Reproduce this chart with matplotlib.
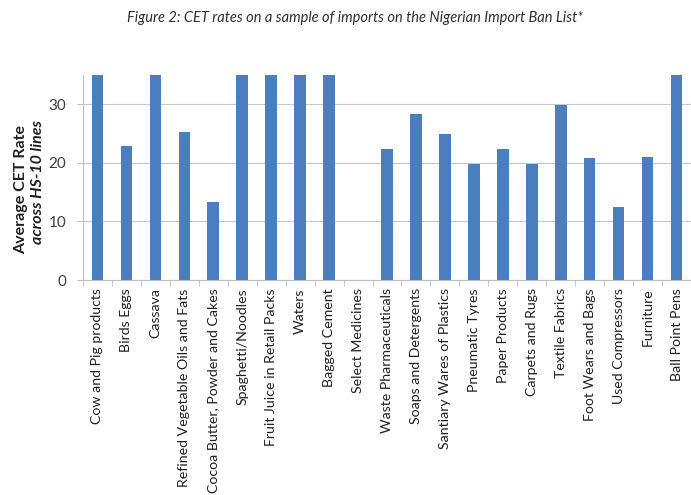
import matplotlib
matplotlib.use("Agg")
import matplotlib.pyplot as plt
import numpy as np

categories = [
    "Cow and Pig products", "Birds Eggs", "Cassava",
    "Refined Vegetable Oils and Fats", "Cocoa Butter, Powder and Cakes",
    "Spaghetti/Noodles", "Fruit Juice in Retail Packs", "Waters",
    "Bagged Cement", "Select Medicines", "Waste Pharmaceuticals",
    "Soaps and Detergents", "Santiary Wares of Plastics", "Pneumatic Tyres",
    "Paper Products", "Carpets and Rugs", "Textile Fabrics",
    "Foot Wears and Bags", "Used Compressors", "Furniture", "Ball Point Pens",
]
values = [35, 22.8, 35, 25.3, 13.4, 35, 35, 35, 35, 0, 22.3, 28.3, 24.9,
          19.8, 22.3, 19.8, 29.8, 20.8, 12.4, 21.0, 35]
yticks = [0, 10, 20, 30]

plt.rcParams['font.family'] = ['Lato', 'DejaVu Sans']

fig = plt.figure(figsize=(6.91, 4.95), dpi=100)
ax = fig.add_axes([83/691, 1 - 280/495, (691 - 83)/691, (280 - 75)/495])

x = np.arange(len(categories))
ax.bar(x, values, width=0.4, color="#4A7EBF", zorder=3)
ax.set_xlim(-0.5, len(categories) - 0.5)
ax.set_ylim(0, 35)
ax.set_yticks(yticks)
ax.set_yticklabels([str(t) for t in yticks], fontsize=11, color="#404040")
ax.set_xticks(x)
ax.set_xticklabels(categories, rotation=90, fontsize=10.2, color="#202020")
ax.tick_params(axis='x', length=0, pad=6)
ax.set_xticks(np.arange(-0.5, len(categories), 1), minor=True)
ax.tick_params(axis='x', which='minor', length=4, color="#BFBFBF")
ax.tick_params(axis='y', length=4, color="#BFBFBF", pad=8)
ax.grid(axis='y', color="#C8C8C8", linewidth=0.8, zorder=0)
for s in ['top', 'right']:
    ax.spines[s].set_visible(False)
ax.spines['left'].set_color("#BFBFBF")
ax.spines['bottom'].set_color("#BFBFBF")

fig.text(355/691, 1 - 18/495,
         "Figure 2: CET rates on a sample of imports on the Nigerian Import Ban List*",
         ha='center', va='center', fontsize=10.5, style='italic', color="#303030")
fig.text(21/691, 1 - 190/495, "Average CET Rate", rotation=90,
         ha='center', va='center', fontsize=11.5, fontweight='bold', color="#202020")
fig.text(38/691, 1 - 182/495, "across HS-10 lines", rotation=90,
         ha='center', va='center', fontsize=11.5, fontweight='bold',
         style='italic', color="#202020")

fig.savefig("out.png", dpi=100)
